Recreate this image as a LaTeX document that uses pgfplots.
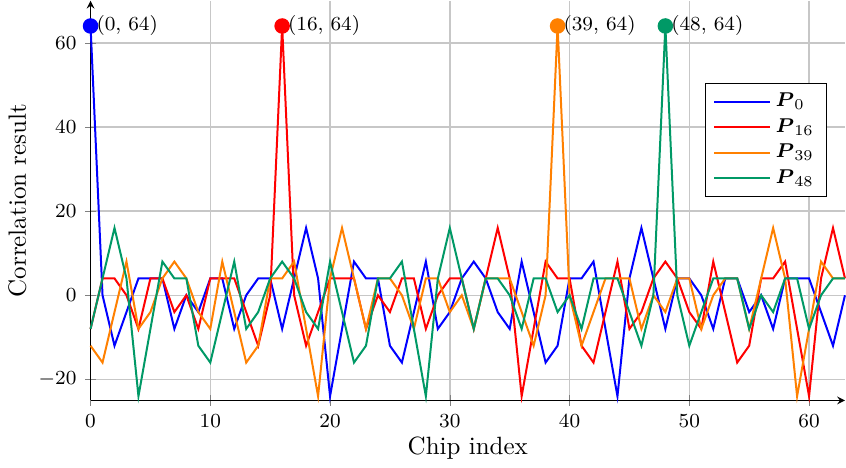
\documentclass[border=0pt]{standalone}
\usepackage{pgfplots}
\usepackage{pgfplotstable}
\usepackage{amsmath}
\pgfplotsset{compat=1.18}
\definecolor{cblue}{RGB}{0,0,255}
\definecolor{cred}{RGB}{255,0,0}
\definecolor{corange}{RGB}{255,128,0}
\definecolor{cgreen}{RGB}{0,153,102}
\pgfplotsset{longlegend/.style={legend image code/.code={\draw[##1] (0cm,0cm) -- (0.78cm,0cm);}}}

\pgfplotstableread{
k p0 p16 p39 p48
0 64 -8 -12 -8
1 0 4 -16 4
2 -12 4 -4 16
3 -4 0 8 4
4 4 -8 -8 -24
5 4 4 -4 -8
6 4 4 4 8
7 -8 -4 8 4
8 0 0 4 4
9 -4 -8 -4 -12
10 4 4 -8 -16
11 4 4 8 -4
12 -8 4 -4 8
13 0 -4 -16 -8
14 4 -12 -12 -4
15 4 0 4 4
16 -8 64 4 8
17 4 0 8 4
18 16 -12 -8 -4
19 4 -4 -24 -8
20 -24 4 4 8
21 -8 4 16 -4
22 8 4 4 -16
23 4 -8 -8 -12
24 4 0 4 4
25 -12 -4 4 4
26 -16 4 0 8
27 -4 4 -8 -8
28 8 -8 4 -24
29 -8 0 4 4
30 -4 4 -4 16
31 4 4 0 4
32 8 -8 -8 -8
33 4 4 4 4
34 -4 16 4 4
35 -8 4 4 0
36 8 -24 -4 -8
37 -4 -8 -12 4
38 -16 8 0 4
39 -12 4 64 -4
40 4 4 0 0
41 4 -12 -12 -8
42 8 -16 -4 4
43 -8 -4 4 4
44 -24 8 4 4
45 4 -8 4 -4
46 16 -4 -8 -12
47 4 4 0 0
48 -8 8 -4 64
49 4 4 4 0
50 4 -4 4 -12
51 0 -8 -8 -4
52 -8 8 0 4
53 4 -4 4 4
54 4 -16 4 4
55 -4 -12 -8 -8
56 0 4 4 0
57 -8 4 16 -4
58 4 8 4 4
59 4 -8 -24 4
60 4 -24 -8 -8
61 -4 4 8 0
62 -12 16 4 4
63 0 4 4 4
}\datatable

\begin{document}
\begin{tikzpicture}
\begin{axis}[
  scale only axis, width=302pt, height=160pt,
  xmin=0, xmax=63, ymin=-25, ymax=70,
  axis lines=left,
  xtick={0,10,...,60}, ytick={-20,0,20,40,60},
  grid=major, grid style={black!22, line width=0.6pt},
  xlabel={Chip index}, ylabel={Correlation result},
  xlabel style={yshift=3pt},
  ylabel shift=-2pt,
  ticklabel style={font=\footnotesize},
  clip=false,
  legend style={at={(0.976,0.795)}, anchor=north east, font=\footnotesize, draw=black, fill=white, row sep=-0.8pt, inner xsep=3pt},
  legend cell align=left,
  every axis plot/.append style={line width=0.8pt},
]
\addplot[cblue, longlegend] table[x=k, y=p0] {\datatable};
\addlegendentry{$\boldsymbol{P}_{0}$}
\addplot[cred, longlegend] table[x=k, y=p16] {\datatable};
\addlegendentry{$\boldsymbol{P}_{16}$}
\addplot[corange, longlegend] table[x=k, y=p39] {\datatable};
\addlegendentry{$\boldsymbol{P}_{39}$}
\addplot[cgreen, longlegend] table[x=k, y=p48] {\datatable};
\addlegendentry{$\boldsymbol{P}_{48}$}

\addplot[forget plot, only marks, mark=*, mark size=2.7pt, cblue, nodes near coords, point meta=explicit symbolic, nodes near coords style={anchor=west, text=black, font=\footnotesize, inner sep=2pt}] coordinates {(0,64) [{(0, 64)}]};
\addplot[forget plot, only marks, mark=*, mark size=2.7pt, cred, nodes near coords, point meta=explicit symbolic, nodes near coords style={anchor=west, text=black, font=\footnotesize, inner sep=2pt}] coordinates {(16,64) [{(16, 64)}]};
\addplot[forget plot, only marks, mark=*, mark size=2.7pt, corange, nodes near coords, point meta=explicit symbolic, nodes near coords style={anchor=west, text=black, font=\footnotesize, inner sep=2pt}] coordinates {(39,64) [{(39, 64)}]};
\addplot[forget plot, only marks, mark=*, mark size=2.7pt, cgreen, nodes near coords, point meta=explicit symbolic, nodes near coords style={anchor=west, text=black, font=\footnotesize, inner sep=2pt}] coordinates {(48,64) [{(48, 64)}]};
\end{axis}
\end{tikzpicture}
\end{document}
